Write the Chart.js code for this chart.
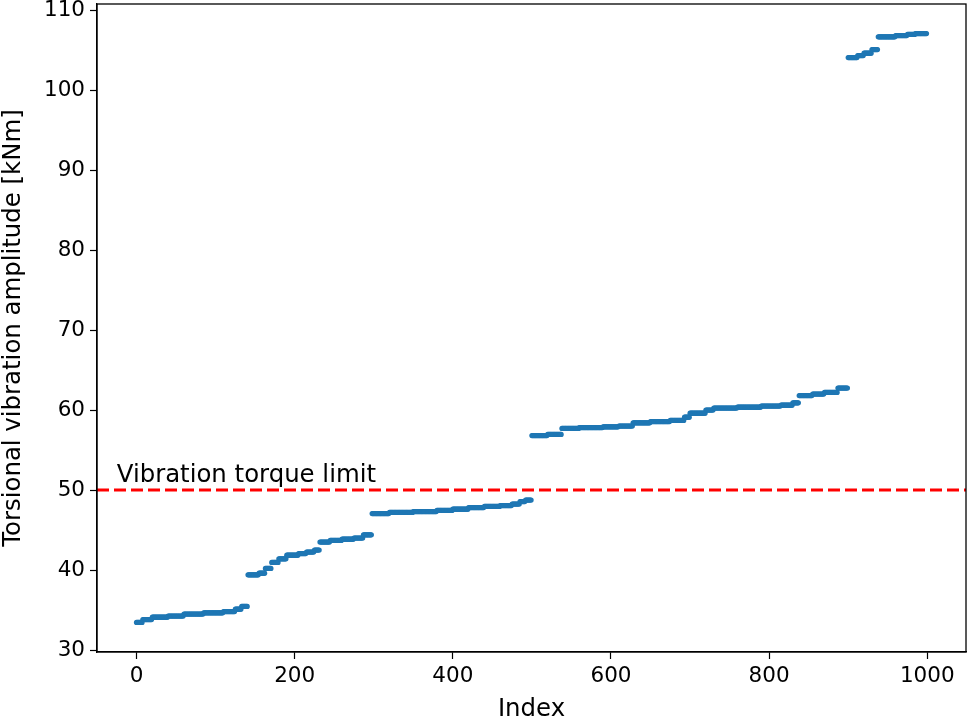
<!DOCTYPE html>
<html>
<head>
<meta charset="utf-8">
<script src="https://cdn.jsdelivr.net/npm/chart.js@4.4.1/dist/chart.umd.min.js"></script>
<style>
  html, body { margin: 0; padding: 0; background: #fff; }
  #wrap { width: 970px; height: 722px; }
</style>
</head>
<body>
<div id="wrap"><canvas id="torque"></canvas></div>
<script>
// step levels of the sorted amplitudes (start index -> value in kNm)
const stepStart = [0, 8, 20, 40, 60, 85, 110, 125, 133, 141, 155, 163, 171, 180, 190, 205, 215, 225,
  232, 245, 260, 275, 287, 298, 320, 350, 380, 400, 420, 440, 460, 475, 485, 492,
  500, 520, 538, 560, 590, 610, 628, 650, 675, 693, 700, 720, 730, 760, 790, 815, 830,
  838, 855, 870, 887, 900, 912, 920, 930, 938, 960, 975, 985];
const stepValue = [33.45, 33.8, 34.1, 34.25, 34.5, 34.65, 34.8, 35.1, 35.45, 39.4, 39.6, 40.2, 40.95, 41.4, 41.85, 42.05, 42.25, 42.5,
  43.5, 43.7, 43.85, 44.0, 44.4, 47.05, 47.2, 47.3, 47.45, 47.6, 47.8, 47.95, 48.05, 48.25, 48.55, 48.75,
  56.8, 56.95, 57.7, 57.8, 57.9, 58.0, 58.4, 58.55, 58.7, 59.1, 59.6, 60.0, 60.25, 60.35, 60.5, 60.6, 60.9,
  61.8, 62.0, 62.2, 62.75, 104.05, 104.3, 104.6, 105.05, 106.65, 106.8, 106.95, 107.05];
const nPoints = 1000;
const limitValue = 50;
const limitLabel = 'Vibration torque limit';
const xTicks = [0, 200, 400, 600, 800, 1000];
const yTicks = [30, 40, 50, 60, 70, 80, 90, 100, 110];
const xRange = [-49.95, 1048.95];
const yRange = [29.75, 110.75];

const points = [];
let s = 0;
for (let i = 0; i < nPoints; i++) {
  while (s + 1 < stepStart.length && stepStart[s + 1] <= i) s++;
  points.push({ x: i, y: stepValue[s] });
}

const tickFont = { family: 'DejaVu Sans', size: 21.5 };
const labelFont = { family: 'DejaVu Sans', size: 24.4 };

// top/right spines and the limit label
const frame = {
  id: 'frame',
  afterDraw(chart) {
    const { ctx, chartArea: a, scales } = chart;
    ctx.save();
    ctx.strokeStyle = '#000';
    ctx.lineWidth = 1.3;
    ctx.strokeRect(a.left, a.top, a.right - a.left, a.bottom - a.top);
    ctx.fillStyle = '#000';
    ctx.font = '24.4px "DejaVu Sans"';
    ctx.textBaseline = 'alphabetic';
    ctx.fillText(limitLabel, scales.x.getPixelForValue(-25), scales.y.getPixelForValue(51.0));
    ctx.restore();
  }
};

new Chart(document.getElementById('torque'), {
  data: {
    datasets: [{
      type: 'scatter',
      data: points,
      pointRadius: 2.6,
      pointBorderWidth: 0,
      backgroundColor: '#1f77b4',
      borderColor: '#1f77b4'
    }, {
      type: 'line',
      data: [{ x: xRange[0], y: limitValue }, { x: xRange[1], y: limitValue }],
      borderColor: '#ff0000',
      borderWidth: 3,
      borderDash: [12, 5],
      pointRadius: 0
    }]
  },
  plugins: [frame],
  options: {
    responsive: true,
    maintainAspectRatio: false,
    animation: false,
    layout: { padding: { top: 2, right: 1, left: 0, bottom: 0 } },
    plugins: { legend: { display: false }, tooltip: { enabled: false } },
    scales: {
      x: {
        type: 'linear',
        min: xRange[0],
        max: xRange[1],
        afterBuildTicks: sc => { sc.ticks = xTicks.map(v => ({ value: v })); },
        afterFit: sc => { sc.height = 70; sc.paddingLeft = 0; sc.paddingRight = 0; },
        grid: { drawOnChartArea: false, drawTicks: true, tickLength: 7, tickWidth: 1.2, color: '#000' },
        border: { display: true, color: '#000', width: 1.3 },
        ticks: { color: '#000', font: tickFont, padding: 5, maxRotation: 0, callback: v => String(v) },
        title: { display: true, text: 'Index', color: '#000', font: labelFont, padding: { top: 0, bottom: -2 } }
      },
      y: {
        type: 'linear',
        min: yRange[0],
        max: yRange[1],
        afterBuildTicks: sc => { sc.ticks = yTicks.map(v => ({ value: v })); },
        afterFit: sc => { sc.width = 97; sc.paddingTop = 0; sc.paddingBottom = 0; },
        grid: { drawOnChartArea: false, drawTicks: true, tickLength: 7, tickWidth: 1.2, color: '#000' },
        border: { display: true, color: '#000', width: 1.3 },
        ticks: { color: '#000', font: tickFont, padding: 5, callback: v => String(v) },
        title: { display: true, text: 'Torsional vibration amplitude [kNm]', color: '#000', font: labelFont, padding: { top: -1, bottom: 6 } }
      }
    }
  }
});
</script>
</body>
</html>
